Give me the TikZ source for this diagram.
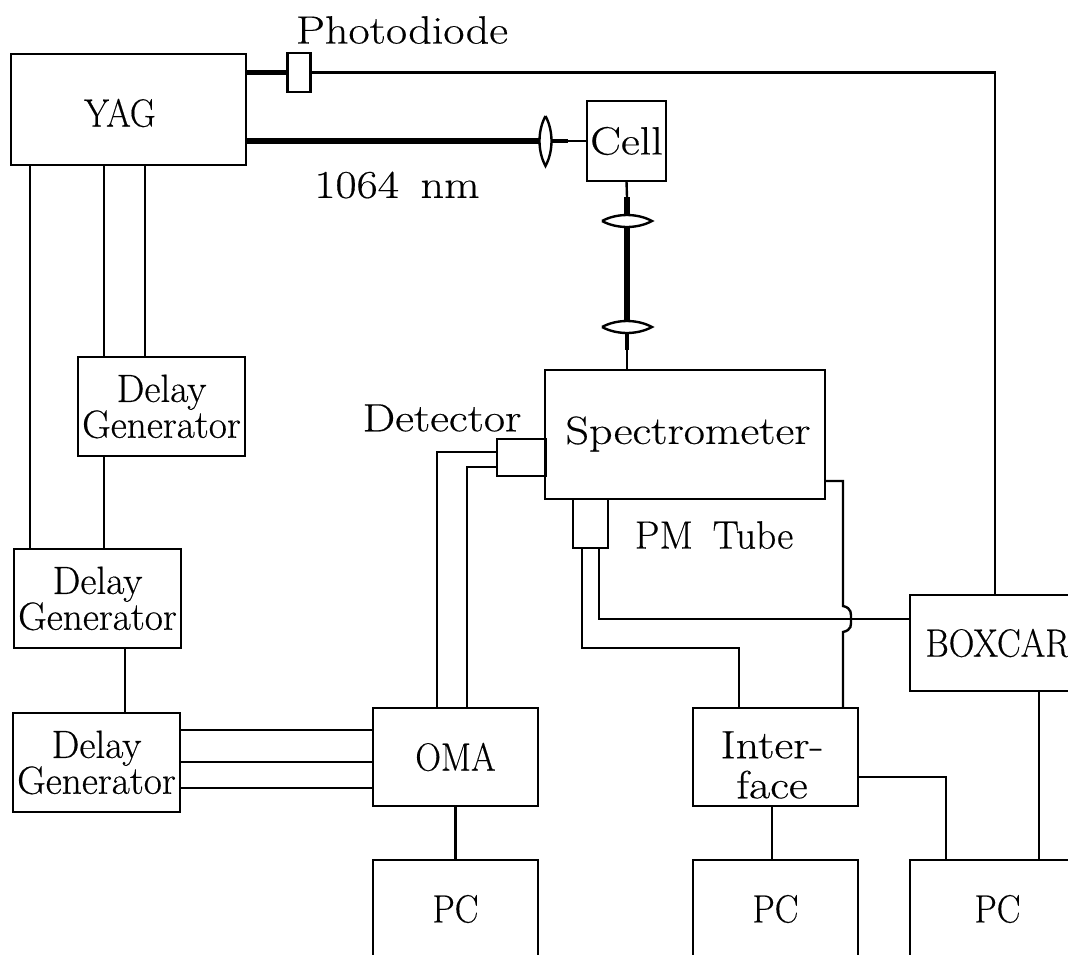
\documentclass[tikz,border=0pt]{standalone}
\usepackage{fontspec}
\setmainfont{Latin Modern Roman}[FakeStretch=1.17,FakeBold=0.4]
\newfontfamily\capsfont{Latin Modern Roman}[FakeStretch=0.9,FakeBold=0.4]
\newfontfamily\narrowfont{Latin Modern Roman}[FakeStretch=1.0,FakeBold=0.4]
\newcommand{\delaygen}{\narrowfont Delay\\[-3pt]\narrowfont Generator}
\tikzset{
	box/.style 2 args={draw,line width=1.7pt,inner sep=0pt,outer sep=0pt,align=center,
		minimum width=#1*0.025cm,minimum height=#2*0.025cm},
	lbl/.style={inner sep=0pt,outer sep=0pt,align=center},
	wire/.style={line width=1.7pt},
	beam/.style={line width=4.2pt},
	midbeam/.style={line width=3pt},
	lens/.pic={\draw[line width=1.7pt,fill=white] (0,-25) .. controls (8,-10) and (8,10) .. (0,25) .. controls (-8,10) and (-8,-10) .. (0,-25);}
}
\begin{document}
\begin{tikzpicture}[x=0.025cm,y=-0.025cm]
	\useasboundingbox (0,0) rectangle (1068,955);
	\fontsize{28}{28.5}\selectfont
	% boxes
	\node[box={235}{111}] (yag) at (128.5,109.5) {};
	\node[box={23}{39}] (diode) at (299,72.5) {};
	\node[box={79}{80}] (cell) at (626.5,141) {Cell};
	\node[box={280}{129}] (spec) at (685,434.5) {};
	\node[box={49}{37}] (det) at (521.5,457.5) {};
	\node[box={35}{49}] (pm) at (590.5,523.5) {};
	\node[box={167}{99}] (dga) at (161.5,406.5) {\delaygen};
	\node[box={167}{99}] (dgb) at (97.5,598.5) {\delaygen};
	\node[box={167}{99}] (dgc) at (96.5,762.5) {\delaygen};
	\node[box={165}{98}] (oma) at (455.5,757) {\capsfont OMA};
	\node[box={165}{98}] (inter) at (775.5,757) {};
	\node[box={175}{96}] (boxcar) at (997.5,643) {\capsfont BOXCAR};
	\node[box={165}{98}] (pca) at (455.5,909) {\capsfont PC};
	\node[box={165}{98}] (pcb) at (775.5,909) {\capsfont PC};
	\node[box={175}{98}] (pcc) at (997.5,909) {\capsfont PC};
	% labels
	\node[lbl] (lyag) at (120,113) {\capsfont YAG};
	\node[lbl] (linter) at (772,765) {Inter-\\face};
	\node[lbl] (ldiode) at (402,30) {Photodiode};
	\node[lbl] (lnm) at (397,185) {1064\hspace{0.55em}nm};
	\node[lbl] (ldet) at (442,418) {Detector};
	\node[lbl] (lspec) at (688,434) {Spectrometer};
	\node[lbl] (lpm) at (714,535) {\narrowfont PM\hspace{0.5em}Tube};
	% helper points
	\coordinate (xa) at (30,0);
	\coordinate (xb) at (104,0);
	\coordinate (xc) at (145,0);
	\coordinate (xd) at (125,0);
	\coordinate (xe) at (437,0);
	\coordinate (xf) at (467,0);
	\coordinate (xg) at (582,0);
	\coordinate (xh) at (599,0);
	\coordinate (xi) at (739,0);
	\coordinate (xj) at (843,0);
	\coordinate (xk) at (946,0);
	\coordinate (xl) at (995,0);
	\coordinate (xm) at (1039,0);
	\coordinate (xn) at (772,0);
	\coordinate (ya) at (0,730);
	\coordinate (yb) at (0,762);
	\coordinate (yc) at (0,788);
	\coordinate (yd) at (0,452);
	\coordinate (ye) at (0,467);
	\coordinate (yf) at (0,648);
	\coordinate (yg) at (0,619);
	\coordinate (yh) at (0,481);
	\coordinate (yi) at (0,777);
	\coordinate (hump) at (843,606);
	\coordinate (humpb) at (843,632);
	\coordinate (lensa) at (545.5,141);
	\coordinate (lensb) at (627,221);
	\coordinate (lensc) at (627,327);
	\coordinate (ba) at (568,141);
	\coordinate (bb) at (627,197);
	\coordinate (bc) at (627,350);
	% wires
	\draw[wire] (yag.south -| xa) -- (dgb.north -| xa);
	\draw[wire] (yag.south -| xb) -- (dga.north -| xb);
	\draw[wire] (yag.south -| xc) -- (dga.north -| xc);
	\draw[wire] (dga.south -| xb) -- (dgb.north -| xb);
	\draw[wire] (dgb.south -| xd) -- (dgc.north -| xd);
	\draw[wire] (dgc.east |- ya) -- (oma.west |- ya);
	\draw[wire] (dgc.east |- yb) -- (oma.west |- yb);
	\draw[wire] (dgc.east |- yc) -- (oma.west |- yc);
	\draw[wire] (oma.north -| xe) |- (det.west |- yd);
	\draw[wire] (oma.north -| xf) |- (det.west |- ye);
	\draw[wire] (oma) -- (pca);
	\draw[wire] (pm.south -| xg) |- (xi |- yf) -- (inter.north -| xi);
	\draw[wire] (pm.south -| xh) |- (boxcar.west |- yg);
	\draw[wire] (spec.east |- yh) -| (hump) .. controls (852,608) and (851,614) .. (851,619) .. controls (851,625) and (852,630) .. (humpb) -- (inter.north -| xj);
	\draw[wire] (inter.south -| xn) -- (pcb.north -| xn);
	\draw[wire] (inter.east |- yi) -| (pcc.north -| xk);
	\draw[wire] (boxcar.south -| xm) -- (pcc.north -| xm);
	\draw[wire] (boxcar.north -| xl) |- (diode.east);
	% beams
	\draw[line width=3.6pt] (yag.east |- diode) -- (diode.west);
	\draw[beam] (yag.east |- lensa) -- (lensa);
	\draw[midbeam] (lensa) -- (ba);
	\draw[wire] (ba) -- (cell.west);
	\draw[wire] (cell.south) -- (bb);
	\draw[beam] (bb) -- (lensc);
	\draw[midbeam] (lensc) -- (bc);
	\draw[wire] (bc) -- (spec.north -| bc);
	\pic at (lensa) {lens};
	\pic[rotate=90] at (lensb) {lens};
	\pic[rotate=90] at (lensc) {lens};
\end{tikzpicture}
\end{document}
